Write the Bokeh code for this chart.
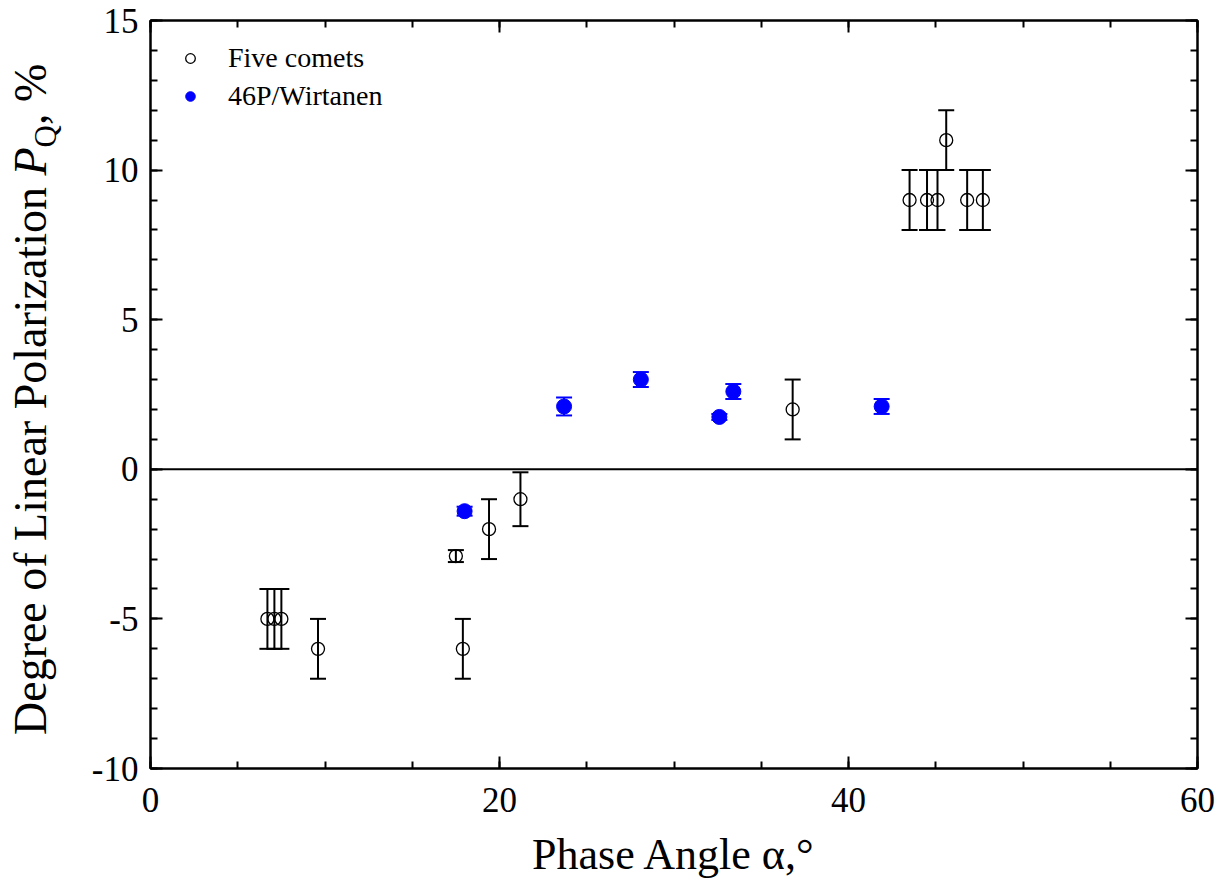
from bokeh.plotting import figure
from bokeh.layouts import row
from bokeh.models import (Range1d, SingleIntervalTicker, LinearAxis, ColumnDataSource,
                          Whisker, TeeHead, Span, Legend, LegendItem, Div,
                          CustomJSTickFormatter)
from bokeh.embed import file_html
from bokeh.resources import INLINE

# ---- data ----
comets_alpha = [6.7, 7.1, 7.5, 9.6, 17.5, 17.9, 19.4, 21.2, 36.8, 43.5, 44.5, 45.1, 45.6, 46.8, 47.7]
comets_p = [-5, -5, -5, -6, -2.9, -6, -2, -1, 2, 9, 9, 9, 11, 9, 9]
comets_err = [1, 1, 1, 1, 0.2, 1, 1, 0.9, 1, 1, 1, 1, 1, 1, 1]

wirt_alpha = [18.0, 23.7, 28.1, 32.6, 33.4, 41.9]
wirt_p = [-1.4, 2.1, 3.0, 1.75, 2.6, 2.1]
wirt_err = [0.15, 0.3, 0.25, 0.1, 0.25, 0.25]

x_range = (0, 60)
y_range = (-10, 15)
x_major, x_minor_n = 20, 4
y_major, y_minor_n = 5, 5

x_title = "Phase Angle α,°"
y_title_main, y_title_sym, y_title_sub, y_title_end = "Degree of Linear Polarization ", "P", "Q", ", %"

FONT = "Liberation Serif"
H = 883
LW = 70  # width of the strip that carries the y title

# ---- y-title strip (HTML text, rotated) ----
y_html = (
    '<div style="position:relative; transform-origin:0 0; '
    'transform: translate(8px, 735px) rotate(-90deg); white-space:nowrap; '
    "font-family:'Liberation Serif', serif; font-size:46px; line-height:46px; color:black;\">"
    f'{y_title_main}<i>{y_title_sym}</i>'
    f'<span style="font-size:31px; position:relative; top:10px;">{y_title_sub}</span>'
    f'{y_title_end}</div>'
)
t = Div(text=y_html, width=LW, height=H, styles={"overflow": "hidden", "margin": "0", "padding": "0"})

# ---- main plot ----
p = figure(width=1224 - LW, height=H, output_backend="svg", toolbar_location=None,
           x_range=Range1d(*x_range), y_range=Range1d(*y_range),
           x_axis_location=None, y_axis_location=None,
           min_border_left=150 - LW, min_border_right=27, min_border_top=20, min_border_bottom=115,
           background_fill_color="white", border_fill_color="white")
p.grid.grid_line_color = None
p.outline_line_color = "black"
p.outline_line_width = 2

plain = CustomJSTickFormatter(code="return tick.toString()")
blank = CustomJSTickFormatter(code="return ''")


def make_axis(interval, nminor, show_labels, standoff):
    return LinearAxis(ticker=SingleIntervalTicker(interval=interval, num_minor_ticks=nminor),
                      axis_line_width=2, axis_line_color="black",
                      major_tick_in=12, major_tick_out=0, minor_tick_in=7, minor_tick_out=0,
                      major_tick_line_width=2, minor_tick_line_width=2,
                      major_tick_line_color="black", minor_tick_line_color="black",
                      major_label_text_font=FONT, major_label_text_font_size="35px",
                      major_label_text_color="black", major_label_standoff=standoff,
                      formatter=plain if show_labels else blank)


xb = make_axis(x_major, x_minor_n, True, 19)
xb.axis_label = x_title
xb.axis_label_text_font = FONT
xb.axis_label_text_font_size = "44px"
xb.axis_label_text_font_style = "normal"
xb.axis_label_text_color = "black"
xb.axis_label_standoff = 15
p.add_layout(xb, "below")
p.add_layout(make_axis(x_major, x_minor_n, False, 0), "above")
p.add_layout(make_axis(y_major, y_minor_n, True, 12), "left")
p.add_layout(make_axis(y_major, y_minor_n, False, 0), "right")

p.add_layout(Span(location=0, dimension="width", line_color="black", line_width=2))

# error bars
src_c = ColumnDataSource(dict(x=comets_alpha,
                              upper=[v + e for v, e in zip(comets_p, comets_err)],
                              lower=[v - e for v, e in zip(comets_p, comets_err)]))
src_w = ColumnDataSource(dict(x=wirt_alpha,
                              upper=[v + e for v, e in zip(wirt_p, wirt_err)],
                              lower=[v - e for v, e in zip(wirt_p, wirt_err)]))

p.add_layout(Whisker(source=src_c, base="x", upper="upper", lower="lower", dimension="height",
                     line_color="black", line_width=2, level="glyph",
                     upper_head=TeeHead(size=16, line_width=2, line_color="black"),
                     lower_head=TeeHead(size=16, line_width=2, line_color="black")))
p.add_layout(Whisker(source=src_w, base="x", upper="upper", lower="lower", dimension="height",
                     line_color="blue", line_width=2, level="glyph",
                     upper_head=TeeHead(size=16, line_width=2, line_color="blue"),
                     lower_head=TeeHead(size=16, line_width=2, line_color="blue")))

r_c = p.scatter(comets_alpha, comets_p, marker="circle", size=13, fill_color=None,
                line_color="black", line_width=1.3)
r_w = p.scatter(wirt_alpha, wirt_p, marker="circle", size=15, fill_color="blue",
                line_color="blue", line_width=1)

legend = Legend(items=[LegendItem(label="Five comets", renderers=[r_c]),
                       LegendItem(label="46P/Wirtanen", renderers=[r_w])],
                location=(28, 656), padding=0, margin=0, spacing=6,
                glyph_width=24, glyph_height=30, label_height=30, label_standoff=26,
                label_text_font=FONT, label_text_font_size="28px", label_text_color="black",
                border_line_color=None, background_fill_alpha=0)
p.add_layout(legend, "center")

layout = row(t, p, spacing=0)
open("out.html", "w").write(file_html(layout, INLINE))
